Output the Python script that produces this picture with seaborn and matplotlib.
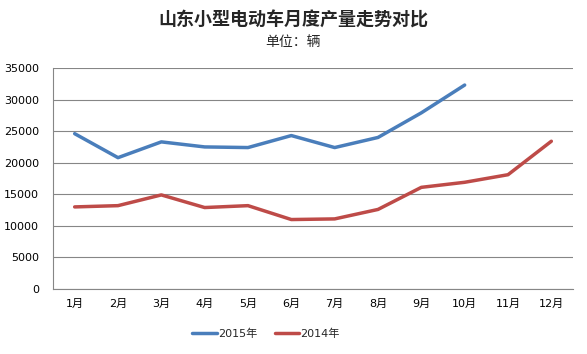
import matplotlib
matplotlib.use("Agg")
import matplotlib.pyplot as plt
import seaborn as sns
import pandas as pd
import numpy as np

months = ["1月", "2月", "3月", "4月", "5月", "6月", "7月", "8月", "9月", "10月", "11月", "12月"]
s2015 = [24600, 20800, 23300, 22500, 22400, 24300, 22400, 24000, 27900, 32300, None, None]
s2014 = [13000, 13200, 14900, 12900, 13200, 11000, 11100, 12600, 16100, 16900, 18100, 23400]
series_names = ["2015年", "2014年"]
yticks = [0, 5000, 10000, 15000, 20000, 25000, 30000, 35000]

sns.set_theme(style="white")
plt.rcParams['font.family'] = ['DejaVu Sans', 'Noto Sans CJK SC']

rows = []
for i, m in enumerate(months):
    if s2015[i] is not None:
        rows.append({"idx": i, "value": s2015[i], "series": series_names[0]})
for i, m in enumerate(months):
    rows.append({"idx": i, "value": s2014[i], "series": series_names[1]})
df = pd.DataFrame(rows)

fig = plt.figure(figsize=(5.87, 3.54), dpi=100)
ax = fig.add_axes([53/587, 65/354, 520/587, 221/354])

sns.lineplot(data=df, x="idx", y="value", hue="series", hue_order=series_names,
             palette=["#4A7EBB", "#BE4B48"], linewidth=2.5, ax=ax, legend=True)

ax.set_xlim(-0.5, len(months) - 0.5)
ax.set_ylim(0, 35000)
ax.set_yticks(yticks)
ax.set_yticklabels([str(v) for v in yticks], fontsize=8, color="black")
ax.yaxis.grid(True, color="#868686", linewidth=0.8)
ax.set_axisbelow(True)

ax.set_xticks(np.arange(-0.5, len(months), 1.0))
ax.set_xticklabels([])
ax.set_xticks(np.arange(len(months)), minor=True)
ax.set_xticklabels(months, minor=True, fontsize=8, color="black")
ax.tick_params(axis="x", which="major", direction="out", length=4, color="#868686", width=0.8)
ax.tick_params(axis="x", which="minor", length=0, pad=7)
ax.tick_params(axis="y", direction="out", length=5, color="#868686", width=0.8, pad=5)
ax.set_xlabel("")
ax.set_ylabel("")
for s in ["top", "right"]:
    ax.spines[s].set_visible(False)
for s in ["left", "bottom"]:
    ax.spines[s].set_color("#868686")
    ax.spines[s].set_linewidth(0.8)

leg = ax.legend(loc="upper center", bbox_to_anchor=(0.41, -0.135), ncol=2, frameon=False,
                prop={"size": 8}, handlelength=2.2, handletextpad=0.1, columnspacing=1.6)

fig.text(0.5, 1 - 20/354, "山东小型电动车月度产量走势对比", ha="center", va="center",
         fontsize=13, fontweight="bold", family=['Noto Sans CJK SC', 'DejaVu Sans'])
fig.text(0.5, 1 - 42/354, "单位：辆", ha="center", va="center", fontsize=10,
         family=['Noto Sans CJK SC', 'DejaVu Sans'])

fig.savefig("out.png", dpi=100)
